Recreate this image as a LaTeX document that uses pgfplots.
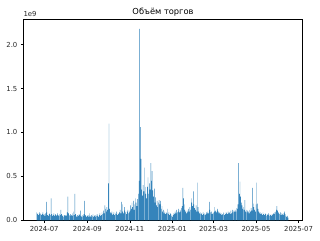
\documentclass[border=0pt]{standalone}
\usepackage{fontspec}
\setmainfont{DejaVu Sans}
\usepackage{pgfplots}
\usepackage{pgfplotstable}
\pgfplotsset{compat=1.18}
\definecolor{mplblue}{HTML}{1F77B4}
% daily trading volume, units of 1e9; first row = 2024-06-20 (day -11 from 2024-07-01)
\pgfplotstableread{
v
0.09
0.07
0.08
0.06
0.09
0.07
0.08
0.06
0.07
0.09
0.06
0.07
0.05
0.08
0.21
0.09
0.06
0.05
0.07
0.08
0.06
0.25
0.07
0.05
0.06
0.08
0.05
0.07
0.06
0.05
0.08
0.06
0.05
0.07
0.06
0.12
0.07
0.05
0.06
0.04
0.06
0.05
0.06
0.05
0.09
0.27
0.08
0.06
0.05
0.07
0.06
0.05
0.08
0.10
0.06
0.30
0.07
0.05
0.04
0.06
0.05
0.07
0.06
0.11
0.05
0.04
0.06
0.05
0.07
0.22
0.06
0.05
0.04
0.05
0.06
0.04
0.08
0.05
0.04
0.06
0.05
0.07
0.04
0.05
0.06
0.04
0.05
0.07
0.05
0.04
0.06
0.08
0.05
0.06
0.09
0.07
0.11
0.08
0.17
0.13
0.10
0.15
0.12
0.42
1.10
0.13
0.09
0.08
0.10
0.06
0.07
0.09
0.06
0.08
0.07
0.10
0.06
0.08
0.07
0.09
0.12
0.08
0.21
0.18
0.10
0.08
0.15
0.11
0.09
0.07
0.10
0.12
0.08
0.09
0.11
0.17
0.13
0.20
0.15
0.22
0.12
0.18
0.25
0.20
0.16
0.24
0.30
0.45
2.18
1.06
0.70
0.35
0.28
0.40
0.33
0.60
0.38
0.30
0.25
0.38
0.49
0.30
0.42
0.35
0.65
0.45
0.56
0.34
0.27
0.36
0.20
0.26
0.17
0.22
0.15
0.20
0.23
0.18
0.22
0.13
0.16
0.10
0.12
0.08
0.10
0.07
0.09
0.08
0.13
0.07
0.09
0.06
0.08
0.07
0.05
0.04
0.06
0.08
0.07
0.10
0.08
0.12
0.09
0.10
0.13
0.09
0.12
0.10
0.14
0.16
0.37
0.25
0.18
0.12
0.10
0.08
0.11
0.09
0.13
0.10
0.15
0.12
0.25
0.20
0.16
0.33
0.18
0.14
0.12
0.17
0.10
0.43
0.15
0.10
0.08
0.09
0.07
0.08
0.06
0.09
0.07
0.08
0.06
0.07
0.09
0.08
0.10
0.08
0.21
0.12
0.09
0.10
0.07
0.08
0.09
0.15
0.10
0.11
0.09
0.11
0.13
0.10
0.08
0.09
0.07
0.08
0.06
0.07
0.09
0.08
0.06
0.07
0.09
0.08
0.07
0.10
0.08
0.09
0.07
0.11
0.08
0.12
0.09
0.11
0.10
0.12
0.10
0.14
0.13
0.18
0.65
0.30
0.44
0.27
0.20
0.17
0.13
0.15
0.12
0.23
0.10
0.12
0.09
0.11
0.10
0.08
0.12
0.10
0.14
0.11
0.37
0.19
0.15
0.12
0.10
0.18
0.43
0.19
0.13
0.10
0.08
0.09
0.07
0.08
0.06
0.09
0.07
0.06
0.08
0.07
0.05
0.07
0.06
0.08
0.05
0.07
0.06
0.05
0.07
0.06
0.08
0.07
0.09
0.10
0.12
0.16
0.11
0.09
0.08
0.07
0.09
0.06
0.08
0.07
0.06
0.08
0.10
0.07
0.05
0.04
0.05
0.03
}\volumedata
\begin{document}
\begin{tikzpicture}
\useasboundingbox (0,0) rectangle (320pt,240pt);
\begin{axis}[
  at={(23.3pt,19.7pt)}, anchor=south west,
  scale only axis, width=279.4pt, height=201pt,
  xmin=-30, xmax=371, ymin=0, ymax=2.289,
  ybar, bar width=0.6,
  axis line style={line width=0.55pt, black},
  xtick={0,62,123,184,243,304,365},
  xticklabels={2024-07,2024-09,2024-11,2025-01,2025-03,2025-05,2025-07},
  ytick={0,0.5,1,1.5,2},
  yticklabel style={/pgf/number format/.cd, fixed, fixed zerofill, precision=1},
  /pgf/number format/assume math mode=true,
  tick align=outside, major tick length=2.4pt,
  xtick pos=bottom, ytick pos=left,
  tick style={line width=0.55pt, black},
  ticklabel style={font=\fontsize{6.9}{8}\selectfont, text=black!85},
  title={Объём торгов},
  title style={font=\fontsize{8.3}{10}\selectfont, yshift=-6.5pt},
  clip=false,
]
\addplot[fill=mplblue, fill opacity=0.9, draw=none] table[x expr=\coordindex-11, y=v] {\volumedata};
\node[anchor=south west, font=\fontsize{6.9}{8}\selectfont, inner sep=0pt, text=black!85] at (rel axis cs:0,1) [yshift=2pt] {1e9};
\end{axis}
\end{tikzpicture}
\end{document}
